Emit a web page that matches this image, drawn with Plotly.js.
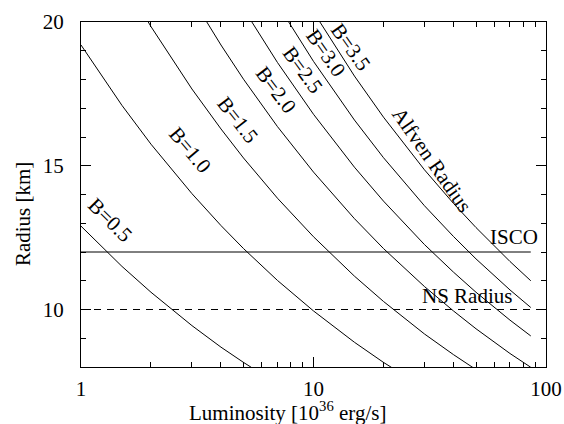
<!DOCTYPE html>
<html>
<head>
<meta charset="utf-8">
<script src="https://cdn.plot.ly/plotly-3.0.1.min.js"></script>
<style>html,body{margin:0;padding:0;background:#fff;}#chart{width:564px;height:424px;}</style>
</head>
<body>
<div id="chart"></div>
<script>
// Luminosity grid [10^36 erg/s]
const lum = [1, 1.5, 2, 3, 4, 5, 7, 10, 15, 20, 30, 40, 50, 70, 86];
// Radius [km]
const rB05 = [12.9, 11.5, 10.6, 9.44, 8.69, 8.16, 7.41, null, null, null, null, null, null, null, null];
const rB10 = [19.2, 17.1, 15.75, 14.03, 12.92, 12.12, 11.01, 9.95, 8.86, 8.16, 7.27, null, null, null, null];
const rB15 = [null, 21.54, 19.84, 17.67, 16.28, 15.27, 13.87, 12.53, 11.16, 10.28, 9.15, 8.43, 7.91, null, null];
const rB20 = [null, null, 23.4, 20.84, 19.2, 18.01, 16.36, 14.78, 13.16, 12.12, 10.8, 9.95, 9.33, 8.47, 7.99];
const rB25 = [null, null, null, null, 21.81, 20.46, 18.59, 16.79, 14.95, 13.77, 12.26, 11.3, 10.6, 9.63, 9.08];
const rB30 = [null, null, null, null, null, 22.71, 20.62, 18.63, 16.59, 15.28, 13.61, 12.54, 11.76, 10.68, 10.07];
const rB35 = [null, null, null, null, null, null, 22.53, 20.35, 18.12, 16.69, 14.86, 13.69, 12.85, 11.67, 11.0];
const curveNames = ['B=0.5', 'B=1.0', 'B=1.5', 'B=2.0', 'B=2.5', 'B=3.0', 'B=3.5'];
const curves = [rB05, rB10, rB15, rB20, rB25, rB30, rB35];
// Reference radii
const iscoX = [1, 86];
const iscoY = [12, 12];
const nsX = [1, 100];
const nsY = [10, 10];
// x tick labels
const xTickVals = [1, 10, 100];
const xTickText = ['1', '10', '100'];
const xTitle = 'Luminosity [10<sup>36</sup> erg/s]';
const yTitle = 'Radius [km]';

const FONT = 'Liberation Serif, Times New Roman, serif';
const tf = {family: FONT, size: 21, color: '#000'};
const traces = curves.map((r, i) => ({
  x: lum, y: r, name: curveNames[i], type: 'scatter', mode: 'lines',
  line: {color: '#000', width: 1}, connectgaps: false, hoverinfo: 'skip'
}));
traces.push({x: iscoX, y: iscoY, name: 'ISCO', type: 'scatter', mode: 'lines', line: {color: '#000', width: 1}});
traces.push({x: nsX, y: nsY, name: 'NS Radius', type: 'scatter', mode: 'lines', line: {color: '#000', width: 1, dash: '7px,6px'}});

// label placement (log10 x, y) and rotation
const labelPos = [
  [0.125, 13.11, 45], [0.469, 15.55, 50], [0.675, 16.60, 52], [0.839, 17.64, 53],
  [0.955, 18.34, 54], [1.054, 18.93, 55], [1.161, 19.14, 55]
];
const annotations = curveNames.map((t, i) => ({
  x: labelPos[i][0], y: labelPos[i][1], xref: 'x', yref: 'y', text: t, showarrow: false,
  textangle: labelPos[i][2], xanchor: 'center', yanchor: 'middle', font: tf
}));
annotations.push({x: 1.510, y: 15.2, xref: 'x', yref: 'y', text: 'Alfven Radius', showarrow: false, textangle: 55,
  xanchor: 'center', yanchor: 'middle', font: tf});
annotations.push({x: 1.862, y: 12.52, xref: 'x', yref: 'y', text: 'ISCO', showarrow: false,
  xanchor: 'center', yanchor: 'middle', font: tf});
annotations.push({x: 1.660, y: 10.46, xref: 'x', yref: 'y', text: 'NS Radius', showarrow: false,
  xanchor: 'center', yanchor: 'middle', font: tf});
// axis titles (placed as in the reference, x title centred on the figure)
annotations.push({x: 0.444, y: -0.128, xref: 'paper', yref: 'paper', text: xTitle, showarrow: false,
  xanchor: 'center', yanchor: 'middle', font: tf});
annotations.push({x: -0.125, y: 0.443, xref: 'paper', yref: 'paper', text: yTitle, showarrow: false, textangle: -90,
  xanchor: 'center', yanchor: 'middle', font: tf});

const axisCommon = {
  showline: true, linecolor: '#000', linewidth: 1, mirror: 'allticks', showgrid: false, zeroline: false,
  ticks: 'inside', ticklen: 10, tickcolor: '#000', tickwidth: 1,
  tickfont: tf
};
const layout = {
  width: 564, height: 424,
  margin: {l: 81, r: 18, t: 22, b: 57},
  paper_bgcolor: '#fff', plot_bgcolor: '#fff',
  showlegend: false,
  font: tf,
  xaxis: Object.assign({}, axisCommon, {
    type: 'log', range: [0, 2], tickmode: 'array', tickvals: xTickVals, ticktext: xTickText,
    ticklabelstandoff: 3,
    minor: {ticks: 'inside', ticklen: 5, dtick: 'D1', tickcolor: '#000', showgrid: false}
  }),
  yaxis: Object.assign({}, axisCommon, {
    range: [8, 20], dtick: 5, tick0: 0, ticklabelstandoff: 12,
    minor: {ticks: 'inside', ticklen: 5, dtick: 1, tickcolor: '#000', showgrid: false}
  }),
  annotations: annotations
};
Plotly.newPlot('chart', traces, layout, {displayModeBar: false, staticPlot: true});
</script>
</body>
</html>
